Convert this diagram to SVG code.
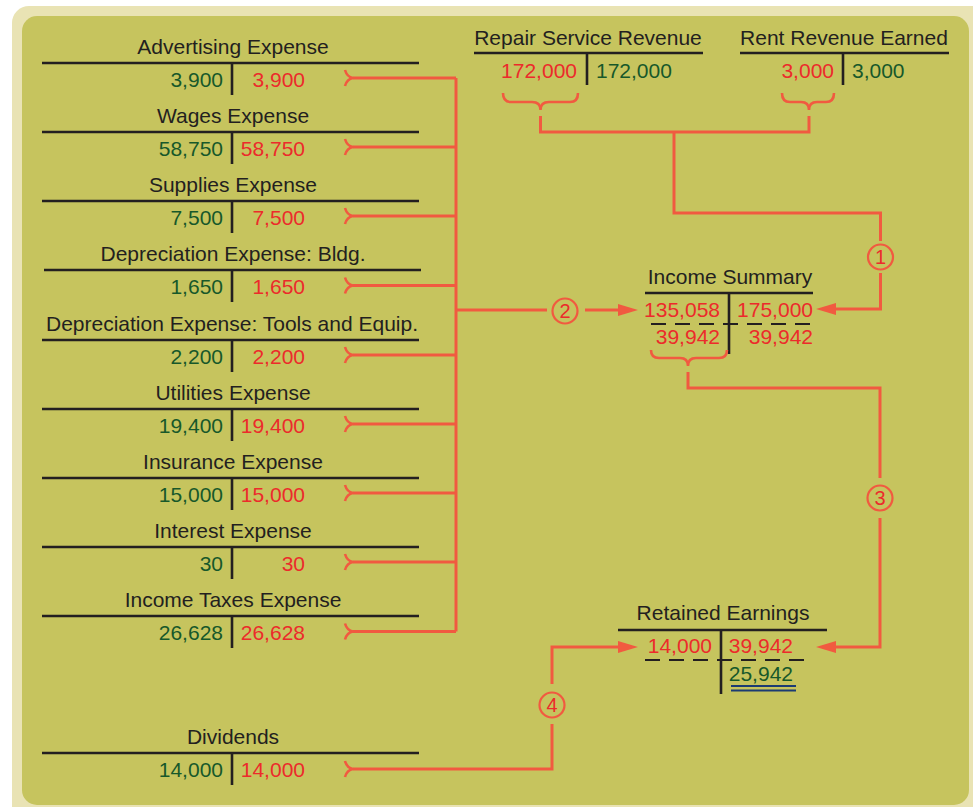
<svg xmlns="http://www.w3.org/2000/svg" width="973" height="807" viewBox="0 0 973 807">
<defs>
<style>
.t{font-family:"Liberation Sans",Arial,Helvetica,sans-serif;font-size:21px;fill:#231f20}
.g{font-family:"Liberation Sans",Arial,Helvetica,sans-serif;font-size:21px;fill:#17582a}
.r{font-family:"Liberation Sans",Arial,Helvetica,sans-serif;font-size:21px;fill:#ec2b2b}
.e{text-anchor:end}
.m{text-anchor:middle}
.ln{stroke:#231f20;stroke-width:2.6;fill:none}
.ds{stroke:#231f20;stroke-width:1.8;fill:none;stroke-dasharray:15 9}
.c{stroke:#f15a40;stroke-width:3;fill:none}
.br{stroke:#f15a40;stroke-width:2.6;fill:none}
.ci{stroke:#f15a40;stroke-width:2.2;fill:none}
.cn{font-family:"Liberation Sans",Arial,Helvetica,sans-serif;font-size:20px;fill:#ec2b2b;text-anchor:middle}
</style>
<marker id="ah" viewBox="0 0 20 12" refX="10" refY="6" markerWidth="20" markerHeight="12" markerUnits="userSpaceOnUse" orient="auto">
<path d="M0,0 L20,6 L0,12 z" fill="#f15a40"/>
</marker>
<path id="tick" d="M0,-8 Q2,-1 8,0 Q2,1 0,8"/>
</defs>

<rect x="0" y="0" width="973" height="807" fill="#ffffff"/>
<rect x="12" y="6" width="990" height="830" rx="17" fill="#e9e3b4"/>
<rect x="22" y="16" width="947" height="789" rx="15" fill="#c6c45e"/>

<g id="advertising-expense">
<text class="t m" x="233" y="54">Advertising Expense</text>
<path class="ln" d="M42,63 H419 M232,63 V95"/>
<text class="g e" x="223" y="87">3,900</text>
<text class="r e" x="305" y="87">3,900</text>
</g>
<g id="wages-expense">
<text class="t m" x="233" y="123">Wages Expense</text>
<path class="ln" d="M42,132 H419 M232,132 V164"/>
<text class="g e" x="223" y="156">58,750</text>
<text class="r e" x="305" y="156">58,750</text>
</g>
<g id="supplies-expense">
<text class="t m" x="233" y="192">Supplies Expense</text>
<path class="ln" d="M42,201 H419 M232,201 V233"/>
<text class="g e" x="223" y="225">7,500</text>
<text class="r e" x="305" y="225">7,500</text>
</g>
<g id="depreciation-bldg">
<text class="t m" x="233" y="261">Depreciation Expense: Bldg.</text>
<path class="ln" d="M44,270 H421 M232,270 V302"/>
<text class="g e" x="223" y="294">1,650</text>
<text class="r e" x="305" y="294">1,650</text>
</g>
<g id="depreciation-tools">
<text class="t m" x="232" y="331">Depreciation Expense: Tools and Equip.</text>
<path class="ln" d="M42,340 H419 M232,340 V372"/>
<text class="g e" x="223" y="364">2,200</text>
<text class="r e" x="305" y="364">2,200</text>
</g>
<g id="utilities-expense">
<text class="t m" x="233" y="400">Utilities Expense</text>
<path class="ln" d="M42,409 H419 M232,409 V441"/>
<text class="g e" x="223" y="433">19,400</text>
<text class="r e" x="305" y="433">19,400</text>
</g>
<g id="insurance-expense">
<text class="t m" x="233" y="469">Insurance Expense</text>
<path class="ln" d="M42,478 H419 M232,478 V510"/>
<text class="g e" x="223" y="502">15,000</text>
<text class="r e" x="305" y="502">15,000</text>
</g>
<g id="interest-expense">
<text class="t m" x="233" y="538">Interest Expense</text>
<path class="ln" d="M42,547 H419 M232,547 V579"/>
<text class="g e" x="223" y="571">30</text>
<text class="r e" x="305" y="571">30</text>
</g>
<g id="income-taxes-expense">
<text class="t m" x="233" y="607">Income Taxes Expense</text>
<path class="ln" d="M42,616 H419 M232,616 V648"/>
<text class="g e" x="223" y="640">26,628</text>
<text class="r e" x="305" y="640">26,628</text>
</g>
<g id="dividends">
<text class="t m" x="233" y="744">Dividends</text>
<path class="ln" d="M42,753 H419 M232,753 V785"/>
<text class="g e" x="223" y="777">14,000</text>
<text class="r e" x="305" y="777">14,000</text>
</g>

<g id="repair-service-revenue">
<text class="t m" x="588" y="45">Repair Service Revenue</text>
<path class="ln" d="M474,53 H703 M587,53 V85"/>
<text class="r e" x="577" y="78">172,000</text>
<text class="g" x="596" y="78">172,000</text>
</g>
<g id="rent-revenue-earned">
<text class="t m" x="844" y="45">Rent Revenue Earned</text>
<path class="ln" d="M740,53 H949 M843,53 V85"/>
<text class="r e" x="834" y="78">3,000</text>
<text class="g" x="852" y="78">3,000</text>
</g>

<g id="income-summary">
<text class="t m" x="730" y="284">Income Summary</text>
<path class="ln" d="M645,293 H813 M729,293 V354"/>
<text class="r e" x="720" y="317">135,058</text>
<text class="r e" x="813" y="317">175,000</text>
<path class="ds" d="M651,324 H813"/>
<text class="r e" x="720" y="344">39,942</text>
<text class="r e" x="813" y="344">39,942</text>
</g>

<g id="retained-earnings">
<text class="t m" x="723" y="620">Retained Earnings</text>
<path class="ln" d="M618,630 H827 M721,630 V694"/>
<text class="r e" x="712" y="653">14,000</text>
<text class="r e" x="793" y="653">39,942</text>
<path class="ds" d="M645,660 H805"/>
<text class="g e" x="793" y="681">25,942</text>
<path d="M731,686 H796 M731,690.5 H796" stroke="#1b3b73" stroke-width="2" fill="none"/>
</g>

<g id="connectors">
<g class="br">
<use href="#tick" x="345" y="78"/>
<use href="#tick" x="345" y="147"/>
<use href="#tick" x="345" y="216"/>
<use href="#tick" x="345" y="285.5"/>
<use href="#tick" x="345" y="355"/>
<use href="#tick" x="345" y="424"/>
<use href="#tick" x="345" y="493"/>
<use href="#tick" x="345" y="562"/>
<use href="#tick" x="345" y="631.5"/>
<use href="#tick" x="345" y="769"/>
</g>
<path class="c" d="M353,78 H456 M353,147 H456 M353,216 H456 M353,285.5 H456 M353,355 H456 M353,424 H456 M353,493 H456 M353,562 H456 M353,631.5 H456 M456,78 V631.5"/>
<path class="c" d="M456,310 H547"/>
<circle class="ci" cx="565" cy="311" r="12.5"/>
<text class="cn" x="565" y="318">2</text>
<path class="c" d="M585,310 H628" marker-end="url(#ah)"/>

<path class="br" d="M503,93 Q503,102 511,102 H532 Q540.5,102 540.5,110 Q540.5,102 549,102 H570 Q578,102 578,93"/>
<path class="br" d="M782,93 Q782,102 790,102 H801 Q809,102 809,110 Q809,102 817,102 H826 Q834,102 834,93"/>
<path class="c" d="M540.5,116 V132 H809 V116 M674,132 V213 H880.5 V241"/>
<circle class="ci" cx="880.5" cy="257" r="12.5"/>
<text class="cn" x="880.5" y="264">1</text>
<path class="c" d="M880.5,273 V309 H826" marker-end="url(#ah)"/>

<path class="br" d="M651,350 Q651,358 659,358 H680 Q688,358 688,366 Q688,358 696,358 H719 Q727,358 727,350"/>
<path class="c" d="M688,372 V388 H880 V478"/>
<circle class="ci" cx="880" cy="498" r="12.5"/>
<text class="cn" x="880" y="505">3</text>
<path class="c" d="M880,518 V647 H826" marker-end="url(#ah)"/>

<path class="c" d="M353,769 H552 V724"/>
<circle class="ci" cx="552" cy="705" r="12.5"/>
<text class="cn" x="552" y="712">4</text>
<path class="c" d="M552,684 V647 H628" marker-end="url(#ah)"/>
</g>
</svg>
